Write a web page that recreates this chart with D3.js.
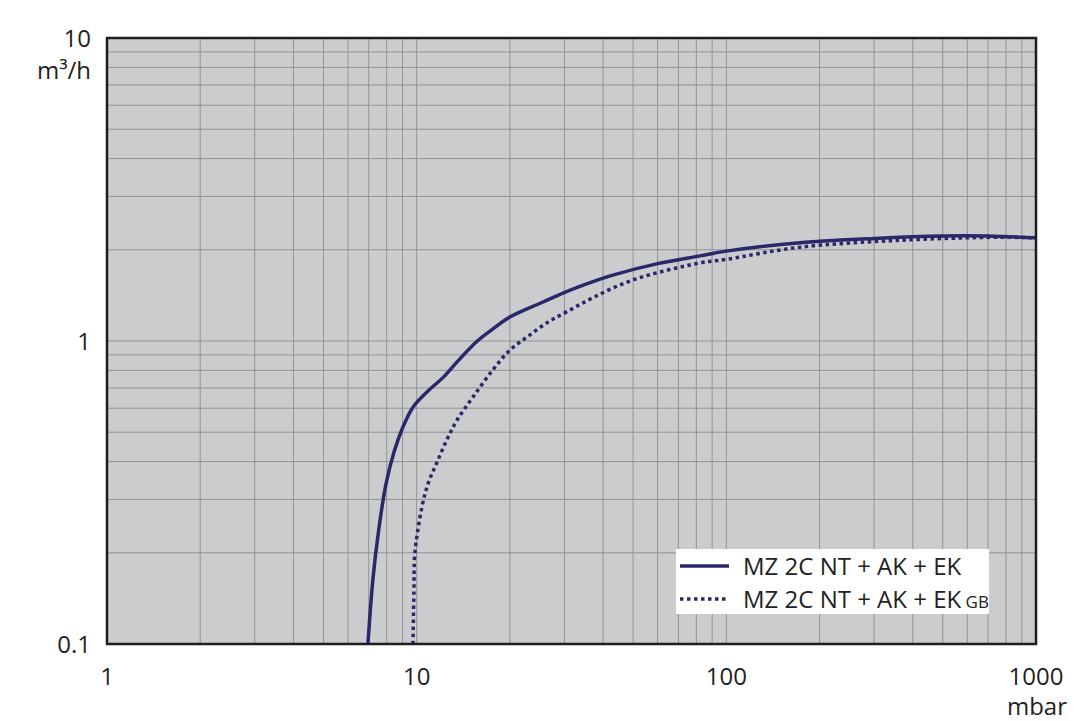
<!DOCTYPE html>
<html>
<head>
<meta charset="utf-8">
<script src="https://cdn.jsdelivr.net/npm/d3@7"></script>
<style>
  body { margin: 0; background: #fff; }
  text { font-family: "Open Sans", sans-serif; fill: #222; }
</style>
</head>
<body>
<div id="chart"></div>
<script>
// pressure in mbar, flow in m3/h
const solidX = [6.96, 7.22, 7.55, 7.95, 8.45, 9.03, 9.73, 10.8, 12.2, 13.6, 15.7, 17.5, 20.0, 25.6, 29.7, 37.1, 43.0, 60, 82.2, 100, 173, 300, 500, 700, 1000];
const solidY = [0.1, 0.163, 0.24, 0.335, 0.43, 0.52, 0.605, 0.679, 0.76, 0.86, 1.0, 1.09, 1.2, 1.345, 1.44, 1.57, 1.65, 1.8, 1.91, 1.98, 2.11, 2.18, 2.22, 2.22, 2.19];
const dottedX = [9.73, 9.8, 9.87, 10.4, 10.9, 11.6, 12.5, 13.5, 15.2, 17.6, 20.0, 22.7, 26.4, 30.6, 37.1, 49.9, 82.2, 100, 173, 364, 766, 1000];
const dottedY = [0.1, 0.15, 0.2, 0.283, 0.34, 0.395, 0.471, 0.548, 0.653, 0.802, 0.933, 1.03, 1.15, 1.25, 1.39, 1.59, 1.81, 1.86, 2.04, 2.15, 2.2, 2.19];

const xTicks = [1, 10, 100, 1000];
const yTicks = [0.1, 1, 10];
const legendNames = ["MZ 2C NT + AK + EK", "MZ 2C NT + AK + EK"];

const W = 1080, H = 721;
const margin = {top: 38, right: 44, bottom: 77, left: 107};
const width = W - margin.left - margin.right;
const height = H - margin.top - margin.bottom;

const svg = d3.select("#chart").append("svg")
    .attr("width", W)
    .attr("height", H);

const g = svg.append("g")
    .attr("transform", `translate(${margin.left},${margin.top})`);

const x = d3.scaleLog().domain([1, 1000]).range([0, width]);
const y = d3.scaleLog().domain([0.1, 10]).range([height, 0]);

g.append("rect")
  .attr("width", width)
  .attr("height", height)
  .attr("fill", "#cbcccd");

// grid lines 2..9 in every decade plus the decades
const xGrid = [], yGrid = [];
[1, 10, 100].forEach(d => { for (let k = 2; k <= 9; k++) xGrid.push(d * k); });
[0.1, 1].forEach(d => { for (let k = 2; k <= 9; k++) yGrid.push(d * k); });
xGrid.push(10, 100);
yGrid.push(1);

g.selectAll(".vgrid").data(xGrid).enter().append("line")
  .attr("x1", d => x(d)).attr("x2", d => x(d))
  .attr("y1", 0).attr("y2", height)
  .attr("stroke", "#929395").attr("stroke-width", 1);

g.selectAll(".hgrid").data(yGrid).enter().append("line")
  .attr("y1", d => y(d)).attr("y2", d => y(d))
  .attr("x1", 0).attr("x2", width)
  .attr("stroke", "#929395").attr("stroke-width", 1);

svg.append("clipPath").attr("id", "clip")
  .append("rect").attr("width", width).attr("height", height);

const line = d3.line()
  .x(d => x(d[0]))
  .y(d => y(d[1]))
  .curve(d3.curveCatmullRom.alpha(0.5));

const navy = "#28286a";

g.append("path")
  .datum(solidX.map((v, i) => [v, solidY[i]]))
  .attr("clip-path", "url(#clip)")
  .attr("d", line)
  .attr("fill", "none")
  .attr("stroke", navy)
  .attr("stroke-width", 3.5);

g.append("path")
  .datum(dottedX.map((v, i) => [v, dottedY[i]]))
  .attr("clip-path", "url(#clip)")
  .attr("d", line)
  .attr("fill", "none")
  .attr("stroke", navy)
  .attr("stroke-width", 3.5)
  .attr("stroke-dasharray", "3.5,3.5");

// frame
g.append("rect")
  .attr("width", width)
  .attr("height", height)
  .attr("fill", "none")
  .attr("stroke", "#1e1e1e")
  .attr("stroke-width", 2.5);

// axis labels
g.selectAll(".xt").data(xTicks).enter().append("text")
  .attr("x", d => x(d))
  .attr("y", height + 41)
  .attr("text-anchor", "middle")
  .attr("font-size", 24)
  .text(d => d);

g.selectAll(".yt").data(yTicks).enter().append("text")
  .attr("x", -16)
  .attr("y", d => y(d) + 9)
  .attr("text-anchor", "end")
  .attr("font-size", 24)
  .text(d => d);

g.append("text")
  .attr("x", -16).attr("y", 41)
  .attr("text-anchor", "end")
  .attr("font-size", 24)
  .text("m³/h");

g.append("text")
  .attr("x", width + 1).attr("y", height + 71)
  .attr("text-anchor", "middle")
  .attr("font-size", 24)
  .text("mbar");

// legend
const lg = svg.append("g").attr("transform", "translate(676,549)");
lg.append("rect").attr("width", 313).attr("height", 65).attr("fill", "#fff");

legendNames.forEach((name, i) => {
  const yy = 17 + i * 33;
  lg.append("line")
    .attr("x1", 4).attr("x2", 53)
    .attr("y1", yy).attr("y2", yy)
    .attr("stroke", navy).attr("stroke-width", 3.5)
    .attr("stroke-dasharray", i === 1 ? "3.5,3.5" : null);
  const t = lg.append("text")
    .attr("x", 67).attr("y", yy + 9)
    .attr("font-size", 24)
    .text(name);
  if (i === 1) t.append("tspan").attr("font-size", 17).text(" GB");
});
</script>
</body>
</html>
